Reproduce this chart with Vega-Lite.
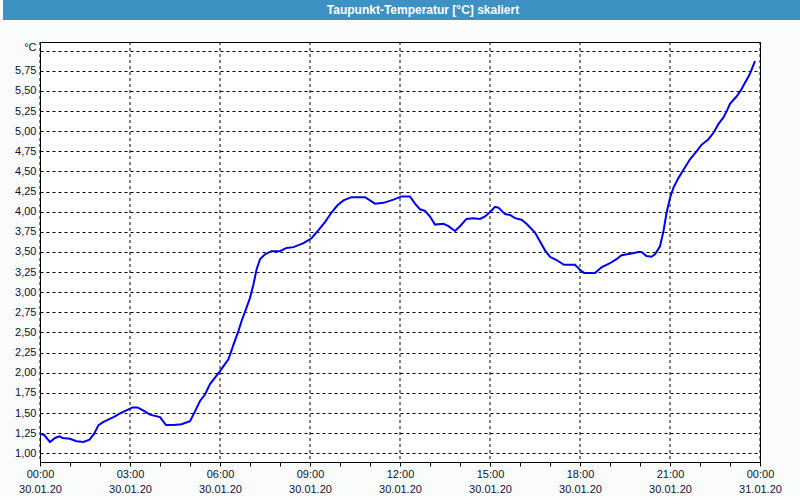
{
  "$schema": "https://vega.github.io/schema/vega-lite/v6.json",
  "background": "#fafcfc",
  "padding": {"left": 0, "top": 0, "right": 0, "bottom": 2},
  "spacing": 21,
  "config": {"view": {"stroke": null}, "font": "Liberation Sans"},
  "vconcat": [
    {
      "width": 800,
      "height": 20,
      "view": {"fill": "#3d91c3", "stroke": null},
      "data": {"values": [{"titel": "Taupunkt-Temperatur [°C] skaliert"}]},
      "mark": {"type": "text", "color": "white", "font": "Liberation Sans", "fontSize": 12, "fontWeight": "bold", "baseline": "middle", "align": "center", "dx": 20},
      "encoding": {"text": {"field": "titel"}}
    },
    {
      "spacing": 7,
      "hconcat": [
        {
          "width": 1,
          "height": 420,
          "view": {"fill": "#fafcfc", "stroke": null},
          "data": {"values": [{"leer": 1}]},
          "mark": {"type": "point", "opacity": 0}
        },
        {
          "width": 720,
          "height": 420,
          "view": {"stroke": "black", "strokeWidth": 1, "fill": "white"},
          "layer": [
            {
              "data": {"values": [
                {"zeit": "2020-01-30T00:00"}, {"zeit": "2020-01-30T03:00"}, {"zeit": "2020-01-30T06:00"}, {"zeit": "2020-01-30T09:00"},
                {"zeit": "2020-01-30T12:00"}, {"zeit": "2020-01-30T15:00"}, {"zeit": "2020-01-30T18:00"},
                {"zeit": "2020-01-30T21:00"}, {"zeit": "2020-01-31T00:00"}
              ]},
              "mark": {"type": "rule", "color": "black", "strokeWidth": 1, "strokeDash": [3, 3]},
              "encoding": {
                "x": {
                  "field": "zeit",
                  "type": "temporal",
                  "scale": {"nice": false},
                  "axis": {
                    "title": null,
                    "tickCount": 24,
                    "format": "%H:%M",
                    "labelExpr": "indexof(['00:00','03:00','06:00','09:00','12:00','15:00','18:00','21:00'], datum.label) >= 0 ? [datum.label, timeFormat(datum.value, '%d.%m.%y')] : ''",
                    "labelOverlap": false,
                    "labelFlush": false,
                    "labelBound": false,
                    "labelFontSize": 11,
                    "labelColor": "#101030",
                    "labelPadding": 2,
                    "labelLineHeight": 15.5,
                    "labelAngle": 0,
                    "labelBaseline": "top",
                    "tickSize": 4,
                    "tickColor": "black",
                    "domainColor": "black",
                    "grid": false
                  }
                }
              }
            },
            {
              "data": {"values": [
              {"zeit": "2020-01-30T00:00", "wert": 1.24},
              {"zeit": "2020-01-30T00:08", "wert": 1.23},
              {"zeit": "2020-01-30T00:20", "wert": 1.14},
              {"zeit": "2020-01-30T00:30", "wert": 1.19},
              {"zeit": "2020-01-30T00:39", "wert": 1.21},
              {"zeit": "2020-01-30T00:45", "wert": 1.19},
              {"zeit": "2020-01-30T01:00", "wert": 1.18},
              {"zeit": "2020-01-30T01:13", "wert": 1.15},
              {"zeit": "2020-01-30T01:27", "wert": 1.14},
              {"zeit": "2020-01-30T01:39", "wert": 1.17},
              {"zeit": "2020-01-30T01:48", "wert": 1.24},
              {"zeit": "2020-01-30T01:57", "wert": 1.35},
              {"zeit": "2020-01-30T02:07", "wert": 1.39},
              {"zeit": "2020-01-30T02:27", "wert": 1.45},
              {"zeit": "2020-01-30T02:41", "wert": 1.50},
              {"zeit": "2020-01-30T02:55", "wert": 1.54},
              {"zeit": "2020-01-30T03:05", "wert": 1.57},
              {"zeit": "2020-01-30T03:15", "wert": 1.57},
              {"zeit": "2020-01-30T03:27", "wert": 1.53},
              {"zeit": "2020-01-30T03:40", "wert": 1.48},
              {"zeit": "2020-01-30T04:00", "wert": 1.45},
              {"zeit": "2020-01-30T04:12", "wert": 1.35},
              {"zeit": "2020-01-30T04:27", "wert": 1.35},
              {"zeit": "2020-01-30T04:43", "wert": 1.36},
              {"zeit": "2020-01-30T05:00", "wert": 1.40},
              {"zeit": "2020-01-30T05:10", "wert": 1.52},
              {"zeit": "2020-01-30T05:20", "wert": 1.65},
              {"zeit": "2020-01-30T05:30", "wert": 1.73},
              {"zeit": "2020-01-30T05:40", "wert": 1.86},
              {"zeit": "2020-01-30T05:50", "wert": 1.94},
              {"zeit": "2020-01-30T06:00", "wert": 2.02},
              {"zeit": "2020-01-30T06:17", "wert": 2.17},
              {"zeit": "2020-01-30T06:27", "wert": 2.35},
              {"zeit": "2020-01-30T06:37", "wert": 2.52},
              {"zeit": "2020-01-30T06:43", "wert": 2.64},
              {"zeit": "2020-01-30T06:52", "wert": 2.79},
              {"zeit": "2020-01-30T07:00", "wert": 2.93},
              {"zeit": "2020-01-30T07:07", "wert": 3.10},
              {"zeit": "2020-01-30T07:13", "wert": 3.28},
              {"zeit": "2020-01-30T07:20", "wert": 3.41},
              {"zeit": "2020-01-30T07:30", "wert": 3.47},
              {"zeit": "2020-01-30T07:43", "wert": 3.51},
              {"zeit": "2020-01-30T08:00", "wert": 3.51},
              {"zeit": "2020-01-30T08:13", "wert": 3.55},
              {"zeit": "2020-01-30T08:27", "wert": 3.56},
              {"zeit": "2020-01-30T08:47", "wert": 3.61},
              {"zeit": "2020-01-30T09:03", "wert": 3.67},
              {"zeit": "2020-01-30T09:17", "wert": 3.77},
              {"zeit": "2020-01-30T09:30", "wert": 3.87},
              {"zeit": "2020-01-30T09:43", "wert": 3.99},
              {"zeit": "2020-01-30T09:55", "wert": 4.08},
              {"zeit": "2020-01-30T10:07", "wert": 4.14},
              {"zeit": "2020-01-30T10:23", "wert": 4.18},
              {"zeit": "2020-01-30T10:50", "wert": 4.18},
              {"zeit": "2020-01-30T11:00", "wert": 4.14},
              {"zeit": "2020-01-30T11:10", "wert": 4.10},
              {"zeit": "2020-01-30T11:27", "wert": 4.11},
              {"zeit": "2020-01-30T11:47", "wert": 4.15},
              {"zeit": "2020-01-30T12:03", "wert": 4.19},
              {"zeit": "2020-01-30T12:20", "wert": 4.19},
              {"zeit": "2020-01-30T12:30", "wert": 4.10},
              {"zeit": "2020-01-30T12:40", "wert": 4.03},
              {"zeit": "2020-01-30T12:50", "wert": 4.01},
              {"zeit": "2020-01-30T13:00", "wert": 3.94},
              {"zeit": "2020-01-30T13:10", "wert": 3.84},
              {"zeit": "2020-01-30T13:27", "wert": 3.85},
              {"zeit": "2020-01-30T13:37", "wert": 3.82},
              {"zeit": "2020-01-30T13:50", "wert": 3.76},
              {"zeit": "2020-01-30T14:00", "wert": 3.82},
              {"zeit": "2020-01-30T14:13", "wert": 3.91},
              {"zeit": "2020-01-30T14:27", "wert": 3.92},
              {"zeit": "2020-01-30T14:40", "wert": 3.91},
              {"zeit": "2020-01-30T14:50", "wert": 3.94},
              {"zeit": "2020-01-30T15:01", "wert": 4.00},
              {"zeit": "2020-01-30T15:10", "wert": 4.06},
              {"zeit": "2020-01-30T15:17", "wert": 4.05},
              {"zeit": "2020-01-30T15:30", "wert": 3.97},
              {"zeit": "2020-01-30T15:40", "wert": 3.96},
              {"zeit": "2020-01-30T15:50", "wert": 3.92},
              {"zeit": "2020-01-30T16:03", "wert": 3.90},
              {"zeit": "2020-01-30T16:13", "wert": 3.85},
              {"zeit": "2020-01-30T16:30", "wert": 3.74},
              {"zeit": "2020-01-30T16:40", "wert": 3.63},
              {"zeit": "2020-01-30T16:50", "wert": 3.52},
              {"zeit": "2020-01-30T17:00", "wert": 3.44},
              {"zeit": "2020-01-30T17:13", "wert": 3.40},
              {"zeit": "2020-01-30T17:28", "wert": 3.34},
              {"zeit": "2020-01-30T17:50", "wert": 3.34},
              {"zeit": "2020-01-30T18:00", "wert": 3.28},
              {"zeit": "2020-01-30T18:08", "wert": 3.24},
              {"zeit": "2020-01-30T18:30", "wert": 3.24},
              {"zeit": "2020-01-30T18:43", "wert": 3.31},
              {"zeit": "2020-01-30T19:00", "wert": 3.36},
              {"zeit": "2020-01-30T19:13", "wert": 3.41},
              {"zeit": "2020-01-30T19:23", "wert": 3.46},
              {"zeit": "2020-01-30T19:43", "wert": 3.48},
              {"zeit": "2020-01-30T19:57", "wert": 3.50},
              {"zeit": "2020-01-30T20:03", "wert": 3.50},
              {"zeit": "2020-01-30T20:13", "wert": 3.45},
              {"zeit": "2020-01-30T20:23", "wert": 3.44},
              {"zeit": "2020-01-30T20:30", "wert": 3.47},
              {"zeit": "2020-01-30T20:40", "wert": 3.57},
              {"zeit": "2020-01-30T20:47", "wert": 3.76},
              {"zeit": "2020-01-30T20:53", "wert": 3.98},
              {"zeit": "2020-01-30T21:00", "wert": 4.17},
              {"zeit": "2020-01-30T21:07", "wert": 4.30},
              {"zeit": "2020-01-30T21:17", "wert": 4.42},
              {"zeit": "2020-01-30T21:27", "wert": 4.52},
              {"zeit": "2020-01-30T21:40", "wert": 4.65},
              {"zeit": "2020-01-30T21:53", "wert": 4.75},
              {"zeit": "2020-01-30T22:03", "wert": 4.83},
              {"zeit": "2020-01-30T22:17", "wert": 4.90},
              {"zeit": "2020-01-30T22:27", "wert": 4.98},
              {"zeit": "2020-01-30T22:37", "wert": 5.09},
              {"zeit": "2020-01-30T22:47", "wert": 5.17},
              {"zeit": "2020-01-30T22:55", "wert": 5.27},
              {"zeit": "2020-01-30T23:00", "wert": 5.34},
              {"zeit": "2020-01-30T23:13", "wert": 5.43},
              {"zeit": "2020-01-30T23:21", "wert": 5.50},
              {"zeit": "2020-01-30T23:30", "wert": 5.60},
              {"zeit": "2020-01-30T23:39", "wert": 5.70},
              {"zeit": "2020-01-30T23:50", "wert": 5.87}
              ]},
              "mark": {"type": "line", "stroke": "#0000f0", "strokeWidth": 2, "interpolate": "linear"},
              "encoding": {
                "x": {"field": "zeit", "type": "temporal"},
                "y": {
                  "field": "wert",
                  "type": "quantitative",
                  "scale": {"domain": [0.892, 6.107], "nice": false, "zero": false},
                  "axis": {
                    "title": "°C",
                    "titleAngle": 0,
                    "titleX": -4,
                    "titleY": 8.6,
                    "titleAlign": "right",
                    "titleBaseline": "alphabetic",
                    "titleFontWeight": "normal",
                    "titleFontSize": 11,
                    "titleColor": "#101030",
                    "values": [1, 1.25, 1.5, 1.75, 2, 2.25, 2.5, 2.75, 3, 3.25, 3.5, 3.75, 4, 4.25, 4.5, 4.75, 5, 5.25, 5.5, 5.75, 6],
                    "format": ".2f",
                    "labelExpr": "datum.value >= 6 ? '' : replace(datum.label, '.', ',')",
                    "labelFontSize": 11,
                    "labelColor": "#101030",
                    "labelPadding": 4,
                    "labelOverlap": false,
                    "ticks": false,
                    "tickSize": 0,
                    "domainColor": "black",
                    "grid": true,
                    "gridColor": "black",
                    "gridDash": [3, 3]
                  }
                }
              }
            }
          ]
        }
      ]
    }
  ]
}
